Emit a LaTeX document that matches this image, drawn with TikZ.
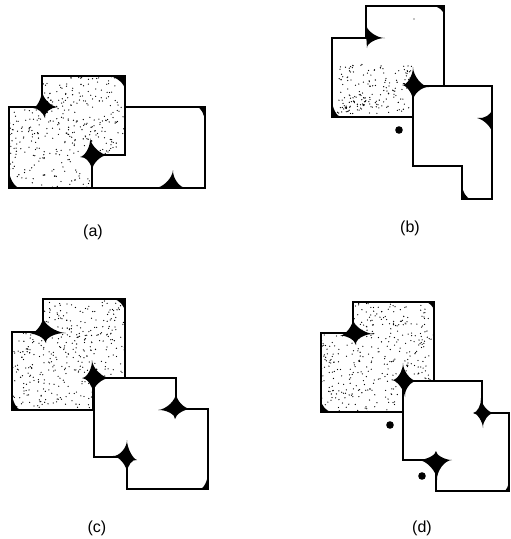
\documentclass[tikz,border=0pt]{standalone}
\usepackage{fontspec}
\setmainfont{Liberation Sans}
\usetikzlibrary{calc}
\newcommand{\blobfour}[5]{\fill (#2) .. controls ($(#1)!.55!(#2)$) and ($(#1)!.55!(#3)$) .. (#3) .. controls ($(#1)!.55!(#3)$) and ($(#1)!.55!(#4)$) .. (#4) .. controls ($(#1)!.55!(#4)$) and ($(#1)!.55!(#5)$) .. (#5) .. controls ($(#1)!.55!(#5)$) and ($(#1)!.55!(#2)$) .. (#2) -- cycle;}
\newcommand{\blobthree}[4]{\fill (#2) .. controls ($(#1)!.55!(#2)$) and ($(#1)!.55!(#3)$) .. (#3) .. controls ($(#1)!.55!(#3)$) and ($(#1)!.55!(#4)$) .. (#4) .. controls ($(#1)!.55!(#4)$) and ($(#1)!.55!(#2)$) .. (#2) -- cycle;}
\newcommand{\cornertri}[3]{\fill (#1) -- (#2) .. controls ($(#2)!.45!(#1)$) and ($(#3)!.45!(#1)$) .. (#3) -- cycle;}
\newcommand{\stipplebox}[5]{\foreach \k in {1,...,#5}{\fill ({#1+rnd*#3},{#2+rnd*#4}) circle (0.65);}}
\tikzset{
  partline/.style={draw=black, line width=2.6pt, line join=miter},
  partfill/.style={fill=white},
  lab/.style={font=\fontsize{16}{18}\selectfont, inner sep=0pt}
}
\begin{document}
\begin{tikzpicture}[x=1pt,y=-1pt]
\useasboundingbox[fill=white] (0,0) rectangle (511,539);
\pgfmathsetseed{11}
% ---------------- (a)
\fill[partfill] (9,107) -- (42,107) -- (42,76) -- (125,76) -- (125,155) -- (92,155) -- (92,188) -- (9,188) -- cycle;
\begin{scope}
\clip (9,107) -- (42,107) -- (42,76) -- (125,76) -- (125,155) -- (92,155) -- (92,188) -- (9,188) -- cycle;
\stipplebox{9}{76}{116}{112}{420}
\end{scope}
\fill[partfill] (125,107) -- (205,107) -- (205,188) -- (92,188) -- (92,155) -- (125,155) -- cycle;
\blobfour{42,107}{42,90}{58,107}{45,118}{33,108}
\cornertri{125,76}{108,76}{125,90}
\cornertri{9,188}{9,170}{20,188}
\blobfour{92,155}{90,138}{108,155}{92,171}{80,157}
\cornertri{205,107}{197,107}{205,122}
\blobthree{172,188}{155,188}{173,170}{186,188}
\draw[partline] (9,107) -- (42,107) -- (42,76) -- (125,76) -- (125,155) -- (92,155) -- (92,188) -- (9,188) -- cycle;
\draw[partline] (125,107) -- (205,107) -- (205,188) -- (92,188) -- (92,155) -- (125,155) -- cycle;
\node[lab] (la) at (93,232) {(a)};
% ---------------- (b)
\fill[partfill] (332,38) -- (366,38) -- (366,6) -- (444,6) -- (444,86) -- (413,86) -- (413,117) -- (332,117) -- cycle;
\begin{scope}
\clip (332,38) -- (366,38) -- (366,6) -- (444,6) -- (444,86) -- (413,86) -- (413,117) -- (332,117) -- cycle;
\stipplebox{338}{64}{74}{50}{150}
\stipplebox{336}{98}{30}{16}{30}
\fill (414,19) circle (0.65);
\end{scope}
\fill[partfill] (413,86) -- (492,86) -- (492,199) -- (462,199) -- (462,166) -- (413,166) -- cycle;
\cornertri{444,6}{433,6}{444,15}
\blobthree{366,38}{366,24}{385,38}{367,48}
\cornertri{332,117}{332,100}{341,117}
\blobfour{413,86}{413,67}{429,87}{413,101}{402,85}
\blobthree{492,121}{492,109}{477,118}{492,133}
\cornertri{462,199}{462,185}{471,199}
\fill (399,130) circle (3.8);
\draw[partline] (332,38) -- (366,38) -- (366,6) -- (444,6) -- (444,86) -- (413,86) -- (413,117) -- (332,117) -- cycle;
\draw[partline] (413,86) -- (492,86) -- (492,199) -- (462,199) -- (462,166) -- (413,166) -- cycle;
\node[lab] (lb) at (410,228) {(b)};
% ---------------- (c)
\fill[partfill] (12,332) -- (43,332) -- (43,299) -- (125,299) -- (125,378) -- (93,378) -- (93,410) -- (12,410) -- cycle;
\begin{scope}
\clip (12,332) -- (43,332) -- (43,299) -- (125,299) -- (125,378) -- (93,378) -- (93,410) -- (12,410) -- cycle;
\stipplebox{12}{299}{114}{112}{420}
\end{scope}
\fill[partfill] (94,378) -- (176,378) -- (176,409) -- (208,409) -- (208,489) -- (127,489) -- (127,457) -- (94,457) -- cycle;
\cornertri{125,299}{113,299}{125,312}
\blobfour{43,332}{43,317}{66,333}{46,343}{30,334}
\cornertri{12,410}{12,393}{21,410}
\blobfour{93,378}{92,360}{110,378}{93,393}{82,378}
\blobfour{176,409}{176,393}{191,409}{175,419}{158,410}
\blobfour{127,457}{127,440}{137,460}{127,473}{113,456}
\cornertri{208,489}{208,473}{200,489}
\draw[partline] (12,332) -- (43,332) -- (43,299) -- (125,299) -- (125,378) -- (93,378) -- (93,410) -- (12,410) -- cycle;
\draw[partline] (94,378) -- (176,378) -- (176,409) -- (208,409) -- (208,489) -- (127,489) -- (127,457) -- (94,457) -- cycle;
\node[lab] (lc) at (97,528) {(c)};
% ---------------- (d)
\fill[partfill] (321,333) -- (353,333) -- (353,302) -- (434,302) -- (434,381) -- (403,381) -- (403,412) -- (321,412) -- cycle;
\begin{scope}
\clip (321,333) -- (353,333) -- (353,302) -- (434,302) -- (434,381) -- (403,381) -- (403,412) -- (321,412) -- cycle;
\stipplebox{321}{302}{114}{111}{420}
\end{scope}
\fill[partfill] (403,381) -- (482,381) -- (482,413) -- (509,413) -- (509,491) -- (436,491) -- (436,460) -- (403,460) -- cycle;
\cornertri{434,302}{425,302}{434,311}
\blobfour{353,333}{353,319}{374,334}{356,345}{340,336}
\cornertri{321,412}{321,400}{332,412}
\blobfour{403,381}{403,363}{417,381}{405,397}{392,380}
\blobfour{482,413}{481,398}{494,413}{483,428}{473,413}
\blobfour{436,460}{436,451}{452,460}{437,480}{418,460}
\cornertri{509,491}{509,480}{504,491}
\fill (390,425) circle (3.8);
\fill (422,476) circle (3.8);
\draw[partline] (321,333) -- (353,333) -- (353,302) -- (434,302) -- (434,381) -- (403,381) -- (403,412) -- (321,412) -- cycle;
\draw[partline] (403,381) -- (482,381) -- (482,413) -- (509,413) -- (509,491) -- (436,491) -- (436,460) -- (403,460) -- cycle;
\node[lab] (ld) at (422,528) {(d)};
\end{tikzpicture}
\end{document}
